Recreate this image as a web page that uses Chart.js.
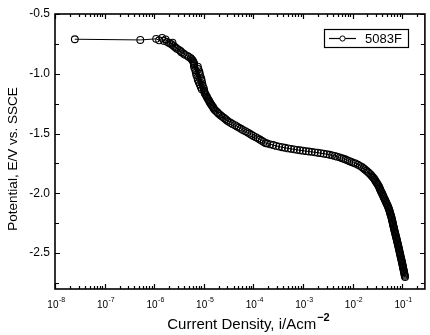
<!DOCTYPE html>
<html>
<head>
<meta charset="utf-8">
<title>5083F polarization curve</title>
<script src="https://cdn.jsdelivr.net/npm/chart.js@4.4.1/dist/chart.umd.min.js"></script>
<style>
  html, body { margin: 0; padding: 0; background: #fff; }
</style>
</head>
<body>
<canvas id="myChart" width="430" height="335"></canvas>
<script type="text/javascript">
// values: log10 of current density (A/cm2) and potential (V vs SSCE)
const seriesLabel = '5083F';
const logCurrent = [
  // start of the scan
  -7.60, -6.28, -5.96, -5.90, -5.84, -5.80, -5.77, -5.74, -5.70, -5.66, -5.63,
  // first descent
  -5.63, -5.60, -5.57, -5.54, -5.50, -5.47, -5.45, -5.41, -5.38, -5.33,
  -5.30, -5.26, -5.24, -5.22, -5.21, -5.20, -5.19,
  -5.20, -5.12, -5.19, -5.11, -5.17, -5.09, -5.16, -5.08, -5.15, -5.07,
  -5.13, -5.05, -5.12, -5.04, -5.10, -5.03, -5.08, -5.02, -5.06, -5.00,
  -5.04, -4.99,
  -4.99, -4.98, -4.97, -4.955, -4.94, -4.93, -4.915, -4.90, -4.89, -4.875,
  -4.86, -4.845, -4.83, -4.81, -4.80, -4.78, -4.76, -4.73, -4.71, -4.68,
  -4.65, -4.62, -4.59, -4.56, -4.53, -4.50, -4.46, -4.42, -4.37, -4.33,
  -4.29, -4.25, -4.21, -4.16, -4.12, -4.08, -4.04, -4.00, -3.95, -3.91,
  -3.87, -3.83, -3.79, -3.75,
  // plateau
  -3.72, -3.66, -3.60, -3.54, -3.48, -3.42, -3.36, -3.30, -3.24, -3.18,
  -3.12, -3.06, -3.00, -2.94, -2.88, -2.82, -2.76, -2.70, -2.64, -2.58,
  -2.52, -2.46, -2.41, -2.36, -2.31, -2.26, -2.22, -2.18, -2.14, -2.10,
  -2.06, -2.02, -1.98,
  // final drop
  -1.94, -1.89, -1.85, -1.81, -1.78, -1.75, -1.72, -1.69, -1.67, -1.64,
  -1.62, -1.60, -1.58, -1.56, -1.545, -1.53, -1.515, -1.50, -1.485, -1.47,
  -1.46, -1.45, -1.44, -1.43, -1.415, -1.405, -1.394, -1.383, -1.372, -1.361,
  -1.35, -1.339, -1.328, -1.317, -1.306, -1.295, -1.285, -1.275, -1.265, -1.258,
  -1.251, -1.244, -1.237, -1.23, -1.222, -1.215,
  -1.209, -1.204, -1.198, -1.193, -1.187, -1.182, -1.176, -1.171, -1.165, -1.16,
  -1.154, -1.148, -1.142, -1.136, -1.13, -1.124, -1.118, -1.112, -1.106, -1.10,
  -1.094, -1.089, -1.083, -1.077, -1.071, -1.066, -1.06, -1.055, -1.05, -1.045,
  -1.039, -1.034, -1.028, -1.022, -1.017, -1.011, -1.006, -1.0, -0.995, -0.99,
  -0.985, -0.98, -0.975, -0.97, -0.965, -0.96, -0.955, -0.95, -0.945, -0.94
];
const potential = [
  -0.711, -0.717, -0.708, -0.720, -0.700, -0.725, -0.712, -0.733, -0.742, -0.750, -0.740,
  -0.76, -0.77, -0.78, -0.79, -0.80, -0.81, -0.82, -0.83, -0.84, -0.85,
  -0.86, -0.87, -0.88, -0.89, -0.90, -0.91, -0.92,
  -0.93, -0.94, -0.95, -0.96, -0.97, -0.98, -0.99, -1.00, -1.01, -1.02,
  -1.03, -1.04, -1.05, -1.06, -1.07, -1.08, -1.09, -1.10, -1.11, -1.12,
  -1.13, -1.14,
  -1.15, -1.16, -1.17, -1.18, -1.19, -1.20, -1.21, -1.22, -1.23, -1.24,
  -1.25, -1.26, -1.27, -1.28, -1.29, -1.30, -1.31, -1.32, -1.33, -1.34,
  -1.35, -1.36, -1.37, -1.38, -1.39, -1.40, -1.41, -1.42, -1.43, -1.44,
  -1.45, -1.46, -1.47, -1.48, -1.49, -1.50, -1.51, -1.52, -1.53, -1.54,
  -1.55, -1.56, -1.57, -1.58,
  -1.583, -1.590, -1.596, -1.603, -1.609, -1.614, -1.619, -1.624, -1.628, -1.632,
  -1.636, -1.640, -1.643, -1.647, -1.650, -1.653, -1.657, -1.660, -1.664, -1.668,
  -1.672, -1.677, -1.682, -1.687, -1.693, -1.699, -1.705, -1.711, -1.717, -1.724,
  -1.731, -1.738, -1.745,
  -1.75, -1.76, -1.77, -1.78, -1.79, -1.80, -1.81, -1.82, -1.83, -1.84,
  -1.85, -1.86, -1.87, -1.88, -1.89, -1.90, -1.91, -1.92, -1.93, -1.94,
  -1.95, -1.96, -1.97, -1.98, -1.99, -2.00, -2.01, -2.02, -2.03, -2.04,
  -2.05, -2.06, -2.07, -2.08, -2.09, -2.10, -2.11, -2.12, -2.13, -2.14,
  -2.15, -2.16, -2.17, -2.18, -2.19, -2.20,
  -2.21, -2.22, -2.23, -2.24, -2.25, -2.26, -2.27, -2.28, -2.29, -2.30,
  -2.31, -2.32, -2.33, -2.34, -2.35, -2.36, -2.37, -2.38, -2.39, -2.40,
  -2.41, -2.42, -2.43, -2.44, -2.45, -2.46, -2.47, -2.48, -2.49, -2.50,
  -2.51, -2.52, -2.53, -2.54, -2.55, -2.56, -2.57, -2.58, -2.59, -2.60,
  -2.61, -2.62, -2.63, -2.64, -2.65, -2.66, -2.67, -2.68, -2.69, -2.70
];

const xTickExponents = [-8, -7, -6, -5, -4, -3, -2, -1];
const xTickBase = '10';
const yTicks = [-0.5, -1.0, -1.5, -2.0, -2.5];
const yTickLabels = ['-0.5', '-1.0', '-1.5', '-2.0', '-2.5'];
const xTitle = 'Current Density, i/Acm';
const xTitleSup = '−2';
const yTitle = 'Potential, E/V vs. SSCE';

var fam = '"Liberation Sans", Arial, sans-serif';

// frame, inward ticks on all four sides, x labels with superscripts, titles, boxed legend
var framePlugin = {
  id: 'frame',
  afterDraw: function(chart) {
    var ctx = chart.ctx, a = chart.chartArea;
    var xs = chart.scales.x, ys = chart.scales.y;
    ctx.save();
    ctx.strokeStyle = '#000';
    ctx.fillStyle = '#000';
    ctx.lineWidth = 1.6;
    ctx.strokeRect(a.left, a.top, a.right - a.left, a.bottom - a.top);

    ctx.lineWidth = 1.2;
    ctx.beginPath();
    xTickExponents.forEach(function(e) {
      for (var k = 1; k <= 9; k++) {
        var v = k * Math.pow(10, e);
        if (v > xs.max) break;
        var px = Math.round(xs.getPixelForValue(v)) + 0.5;
        var len = k == 1 ? 5 : 3;
        ctx.moveTo(px, a.bottom); ctx.lineTo(px, a.bottom - len);
        ctx.moveTo(px, a.top); ctx.lineTo(px, a.top + len);
      }
    });
    yTicks.forEach(function(v) {
      [v, v - 0.25].forEach(function(t, j) {
        if (t < ys.min) return;
        var py = Math.round(ys.getPixelForValue(t)) + 0.5;
        var len = j == 0 ? 5 : 4;
        ctx.moveTo(a.left, py); ctx.lineTo(a.left + len, py);
        ctx.moveTo(a.right, py); ctx.lineTo(a.right - len, py);
      });
    });
    ctx.stroke();

    // x tick labels 10^n
    ctx.textBaseline = 'alphabetic';
    ctx.textAlign = 'left';
    xTickExponents.forEach(function(e) {
      var px = xs.getPixelForValue(Math.pow(10, e));
      var sup = String(e);
      ctx.font = '10px ' + fam;
      var w1 = ctx.measureText(xTickBase).width;
      ctx.font = '7px ' + fam;
      var w2 = ctx.measureText(sup).width;
      var x0 = px - (w1 + w2) / 2 + 1;
      ctx.font = '10px ' + fam;
      ctx.fillText(xTickBase, x0, 308);
      ctx.font = '7px ' + fam;
      ctx.fillText(sup, x0 + w1 + 0.5, 302);
    });

    // x title with bold superscript
    ctx.font = '15px ' + fam;
    var tw = ctx.measureText(xTitle).width;
    ctx.font = 'bold 11px ' + fam;
    var sw = ctx.measureText(xTitleSup).width;
    var tx = 248 - (tw + sw) / 2;
    ctx.font = '15px ' + fam;
    ctx.fillText(xTitle, tx, 329);
    ctx.font = 'bold 11px ' + fam;
    ctx.fillText(xTitleSup, tx + tw + 1, 321);

    // y title
    ctx.save();
    ctx.translate(13, 159);
    ctx.rotate(-Math.PI / 2);
    ctx.textAlign = 'center';
    ctx.textBaseline = 'middle';
    ctx.font = '13.5px ' + fam;
    ctx.fillText(yTitle, 0, 0);
    ctx.restore();

    // legend
    var ds = chart.data.datasets[0];
    ctx.lineWidth = 1.2;
    ctx.strokeRect(324.5, 29.5, 84, 18);
    ctx.beginPath();
    ctx.moveTo(329, 38.5); ctx.lineTo(356, 38.5);
    ctx.stroke();
    ctx.beginPath();
    ctx.arc(342.5, 38.5, 2.6, 0, Math.PI * 2);
    ctx.fillStyle = '#fff';
    ctx.fill();
    ctx.lineWidth = 1;
    ctx.stroke();
    ctx.fillStyle = '#000';
    ctx.font = '13px ' + fam;
    ctx.textBaseline = 'middle';
    ctx.textAlign = 'left';
    ctx.fillText(ds.label, 365, 39);
    ctx.restore();
  }
};

var points = logCurrent.map(function(v, i) {
  return { x: Math.pow(10, v), y: potential[i] };
});

var ctx = document.getElementById('myChart').getContext('2d');
var chart = new Chart(ctx, {
  type: 'line',
  data: {
    datasets: [{
      label: seriesLabel,
      data: points,
      borderColor: '#000',
      borderWidth: 1,
      pointRadius: 3.4,
      pointBorderWidth: 1.1,
      pointBackgroundColor: 'rgba(255,255,255,0)',
      pointBorderColor: '#000',
      tension: 0
    }]
  },
  options: {
    responsive: false,
    animation: false,
    layout: { padding: { top: 14, right: 2, left: 0, bottom: 0 } },
    plugins: { legend: { display: false }, tooltip: { enabled: false } },
    scales: {
      x: {
        type: 'logarithmic',
        min: 1e-8,
        max: Math.pow(10, -0.54),
        grid: { display: false, drawTicks: false },
        border: { display: false },
        afterBuildTicks: function(s) {
          s.ticks = xTickExponents.map(function(e) { return { value: Math.pow(10, e) }; });
        },
        ticks: { display: false },
        afterFit: function(s) { s.height = 46; }
      },
      y: {
        min: -2.8,
        max: -0.5,
        grid: { display: false, drawTicks: false },
        border: { display: false },
        afterBuildTicks: function(s) {
          s.ticks = yTicks.map(function(v) { return { value: v }; });
        },
        ticks: {
          autoSkip: false, padding: 5, color: '#000',
          font: { family: fam, size: 12 },
          callback: function(v, i) { return yTickLabels[i]; }
        },
        afterFit: function(s) { s.width = 55; }
      }
    }
  },
  plugins: [framePlugin]
});
</script>
</body>
</html>
